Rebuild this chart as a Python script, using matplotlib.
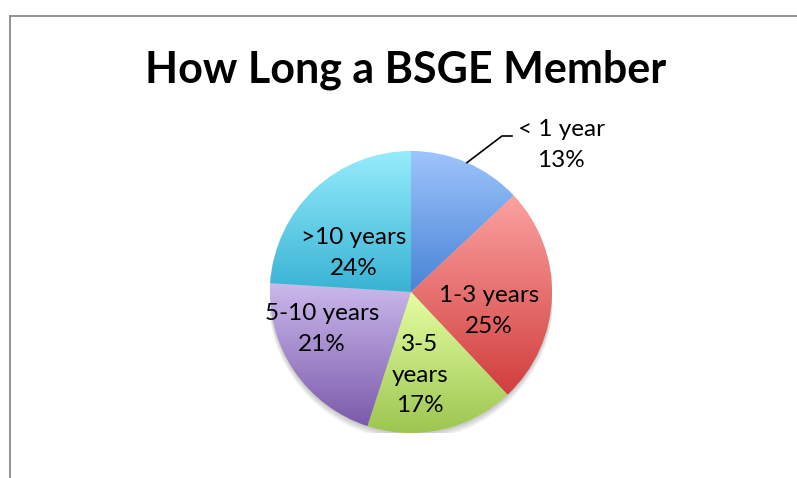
import numpy as np
import matplotlib
matplotlib.use("Agg")
import matplotlib.pyplot as plt
from matplotlib.colors import LinearSegmentedColormap
from matplotlib.lines import Line2D
from matplotlib.patches import Circle

# data
labels = ["< 1 year", "1-3 years", "3-5\nyears", "5-10 years", ">10 years"]
shares = [13, 25, 17, 21, 24]
top_colors = ["#9ec4fb", "#fba2a0", "#e6fea2", "#cbb9ec", "#96ecfc"]
bottom_colors = ["#4784d6", "#d03e3d", "#9cc650", "#7b5aab", "#38b3d4"]

W, H = 797, 478
fig = plt.figure(figsize=(W / 100, H / 100), dpi=100)
fig.patch.set_facecolor("white")

# pie center / radius in pixels
cx, cy, r = 411, 292, 141
ax = fig.add_axes([(cx - r) / W, (H - cy - r) / H, 2 * r / W, 2 * r / H])
ax.set_aspect("equal")
ax.axis("off")

# soft shadow under the pie
for i in range(4):
    ax.add_patch(Circle((0.0, -0.015 - 0.008 * i), 1.0 + 0.004 * i,
                        color="black", alpha=0.05, lw=0, zorder=0))

wedges, _ = ax.pie(shares, startangle=90, counterclock=False, radius=1,
                   wedgeprops=dict(linewidth=0))

# vertical gradient inside each slice's own bounding box
for w, c0, c1 in zip(wedges, top_colors, bottom_colors):
    w.set_facecolor("none")
    bb = w.get_path().get_extents()
    cmap = LinearSegmentedColormap.from_list("g", [c1, c0])
    grad = np.linspace(0, 1, 256).reshape(-1, 1)
    im = ax.imshow(grad, cmap=cmap, origin="lower", aspect="auto",
                   extent=[bb.x0, bb.x1, bb.y0, bb.y1], zorder=1,
                   interpolation="bicubic")
    im.set_clip_path(w)
ax.set_xlim(-1, 1)
ax.set_ylim(-1, 1)

# frame
fig.add_artist(Line2D([9.5 / W, 1], [1 - 15.5 / H, 1 - 15.5 / H],
                      color="#8a8a8a", lw=1.3))
fig.add_artist(Line2D([9.5 / W, 9.5 / W], [0, 1 - 15.5 / H],
                      color="#8a8a8a", lw=1.3))

# title
fig.text(406 / W, 1 - 82 / H, "How Long a BSGE Member", ha="center",
         va="baseline", fontsize=31, fontweight="bold", family="Lato")

# data labels (pixel positions)
lab_pos = [(561, 145), (489, 311), (420, 375), (322, 329), (354, 253)]
for lab, s, (px, py) in zip(labels, shares, lab_pos):
    fig.text(px / W, 1 - py / H, f"{lab}\n{s}%", ha="center", va="center",
             fontsize=17.5, family="Lato", linespacing=1.55)

# leader line for the first slice
mid = np.deg2rad(90 - shares[0] / sum(shares) * 360 / 2)
x0, y0 = cx + r * np.cos(mid), cy - r * np.sin(mid)
xs = [x0, 502, 512]
ys = [y0, 136, 136]
fig.add_artist(Line2D([x / W for x in xs], [1 - y / H for y in ys],
                      color="black", lw=1.2))

fig.savefig("out.png", dpi=100)
